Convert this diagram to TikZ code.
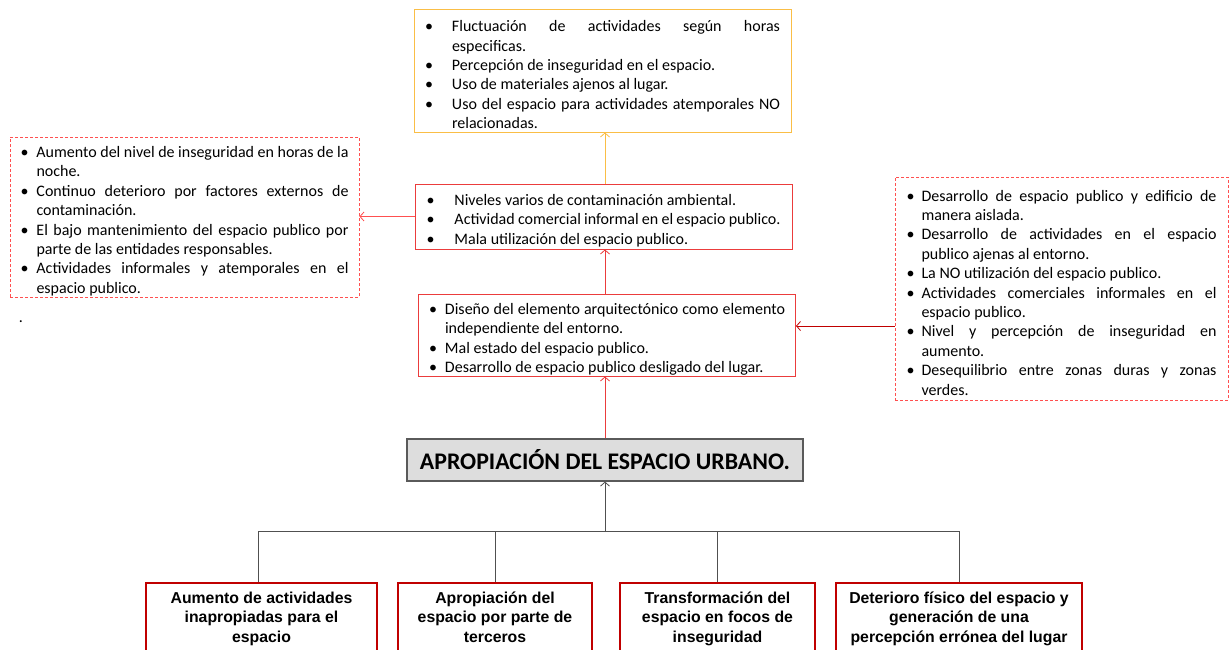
\documentclass[tikz,border=0pt]{standalone}
\usepackage{fontspec}
\setmainfont{Carlito}
\newfontfamily\arialf{Liberation Sans}
\usetikzlibrary{arrows.meta}
\definecolor{yel}{RGB}{250,190,70}
\definecolor{redl}{RGB}{235,60,60}
\definecolor{redd}{RGB}{255,80,80}
\definecolor{dred}{RGB}{192,0,0}
\definecolor{titlefill}{RGB}{221,221,221}
\definecolor{titledraw}{RGB}{90,90,90}
\definecolor{treec}{RGB}{80,80,80}
\hyphenpenalty=10000
\exhyphenpenalty=10000
\newcommand\itm[2]{\par\noindent\hangindent=#1\hangafter=1\makebox[#1][l]{\textbullet}#2\par}
\tikzset{
  lst/.style={font=\fontsize{16}{19.4}\selectfont, align=justify, inner sep=0pt, line width=0.9pt},
  dbox/.style={lst, draw=redd, dash pattern=on 3pt off 2pt},
  sbox/.style={lst, draw=redl},
  bbox/.style={draw=dred, line width=1.8pt, inner sep=0pt, align=center,
     font=\arialf\bfseries\fontsize{15.8}{19.5}\selectfont, minimum height=72},
  arr/.style={-{Straight Barb[length=4pt,width=9pt]}, line width=0.8pt},
  tree/.style={draw=treec, line width=0.9pt},
}
\begin{document}
\begin{tikzpicture}[x=1pt,y=-1pt]
\useasboundingbox[fill=white] (0,0) rectangle (1231,649);
\clip (0,0) rectangle (1231,649);

\node[lst, draw=yel, minimum width=377, minimum height=123, text width=355] (top) at (602.5,70.5) {%
\itm{27pt}{Fluctuación de actividades según horas\linebreak especificas.}
\itm{27pt}{Percepción de inseguridad en el espacio.}
\itm{27pt}{Uso de materiales ajenos al lugar.}
\itm{27pt}{Uso del espacio para actividades atemporales NO relacionadas.}};

\node[dbox, minimum width=349, minimum height=160, text width=328] (left) at (184.5,217) {%
\itm{16pt}{Aumento del nivel de inseguridad en horas de la noche.}
\itm{16pt}{Continuo deterioro por factores externos de contaminación.}
\itm{16pt}{El bajo mantenimiento del espacio publico por parte de las entidades responsables.}
\itm{16pt}{Actividades informales y atemporales en el espacio publico.}};

\node[font=\fontsize{16}{19}\selectfont, inner sep=0pt] (dot) at (21,322) {.};

\node[sbox, minimum width=377, minimum height=65, text width=354] (mid1) at (603.5,216.5) {%
\itm{28pt}{Niveles varios de contaminación ambiental.}
\itm{28pt}{Actividad comercial informal en el espacio publico.}
\itm{28pt}{Mala utilización del espacio publico.}};

\node[sbox, minimum width=377, minimum height=82, text width=356] (mid2) at (607,335) {%
\itm{16pt}{Diseño del elemento arquitectónico como elemento independiente del entorno.}
\itm{16pt}{Mal estado del espacio publico.}
\itm{16pt}{Desarrollo de espacio publico desligado del lugar.}};

\node[dbox, minimum width=333, minimum height=223, text width=310] (right) at (1061.5,288.5) {%
\itm{15pt}{Desarrollo de espacio publico y edificio de manera aislada.}
\itm{15pt}{Desarrollo de actividades en el espacio publico ajenas al entorno.}
\itm{15pt}{La NO utilización del espacio publico.}
\itm{15pt}{Actividades comerciales informales en el espacio publico.}
\itm{15pt}{Nivel y percepción de inseguridad en aumento.}
\itm{15pt}{Desequilibrio entre zonas duras y zonas verdes.}};

\node[draw=titledraw, fill=titlefill, line width=1.2pt, minimum width=396, minimum height=42, inner sep=0pt,
  font=\bfseries\fontsize{23.8}{26}\selectfont] (title) at (605,460) {APROPIACIÓN DEL ESPACIO URBANO.};

\node[bbox, minimum width=231] (b1) at (261.5,619) {\strut Aumento de actividades\\inapropiadas para el\\espacio\strut};
\node[bbox, minimum width=194] (b2) at (495,619) {\strut Apropiación del\\espacio por parte de\\terceros\strut};
\node[bbox, minimum width=195] (b3) at (717.5,619) {\strut Transformación del\\espacio en focos de\\inseguridad\strut};
\node[bbox, minimum width=246] (b4) at (959,619) {\strut Deterioro físico del espacio y\\generación de una\\percepción errónea del lugar\strut};

\coordinate (j) at (605,532);
\draw[tree] ([xshift=-3.5pt]b1.north) -- ++(0,-51) -| (b4.north);
\draw[tree] (b2.north) -- ++(0,-51);
\draw[tree] (b3.north) -- ++(0,-51);
\draw[tree, arr] (j) -- (title.south -| j);

\draw[arr, draw=redl] (title.north) -- (title.north |- mid2.south);
\draw[arr, draw=redl] (mid2.north -| title.north) -- (title.north |- mid1.south);
\draw[arr, draw=yel] (mid1.north -| title.north) -- (title.north |- top.south);
\draw[arr, draw=redd] (mid1.west) -- (mid1.west -| left.east);
\draw[arr, draw=dred] ([yshift=9pt]mid2.east -| right.west) -- ([yshift=9pt]mid2.east);
\end{tikzpicture}
\end{document}
